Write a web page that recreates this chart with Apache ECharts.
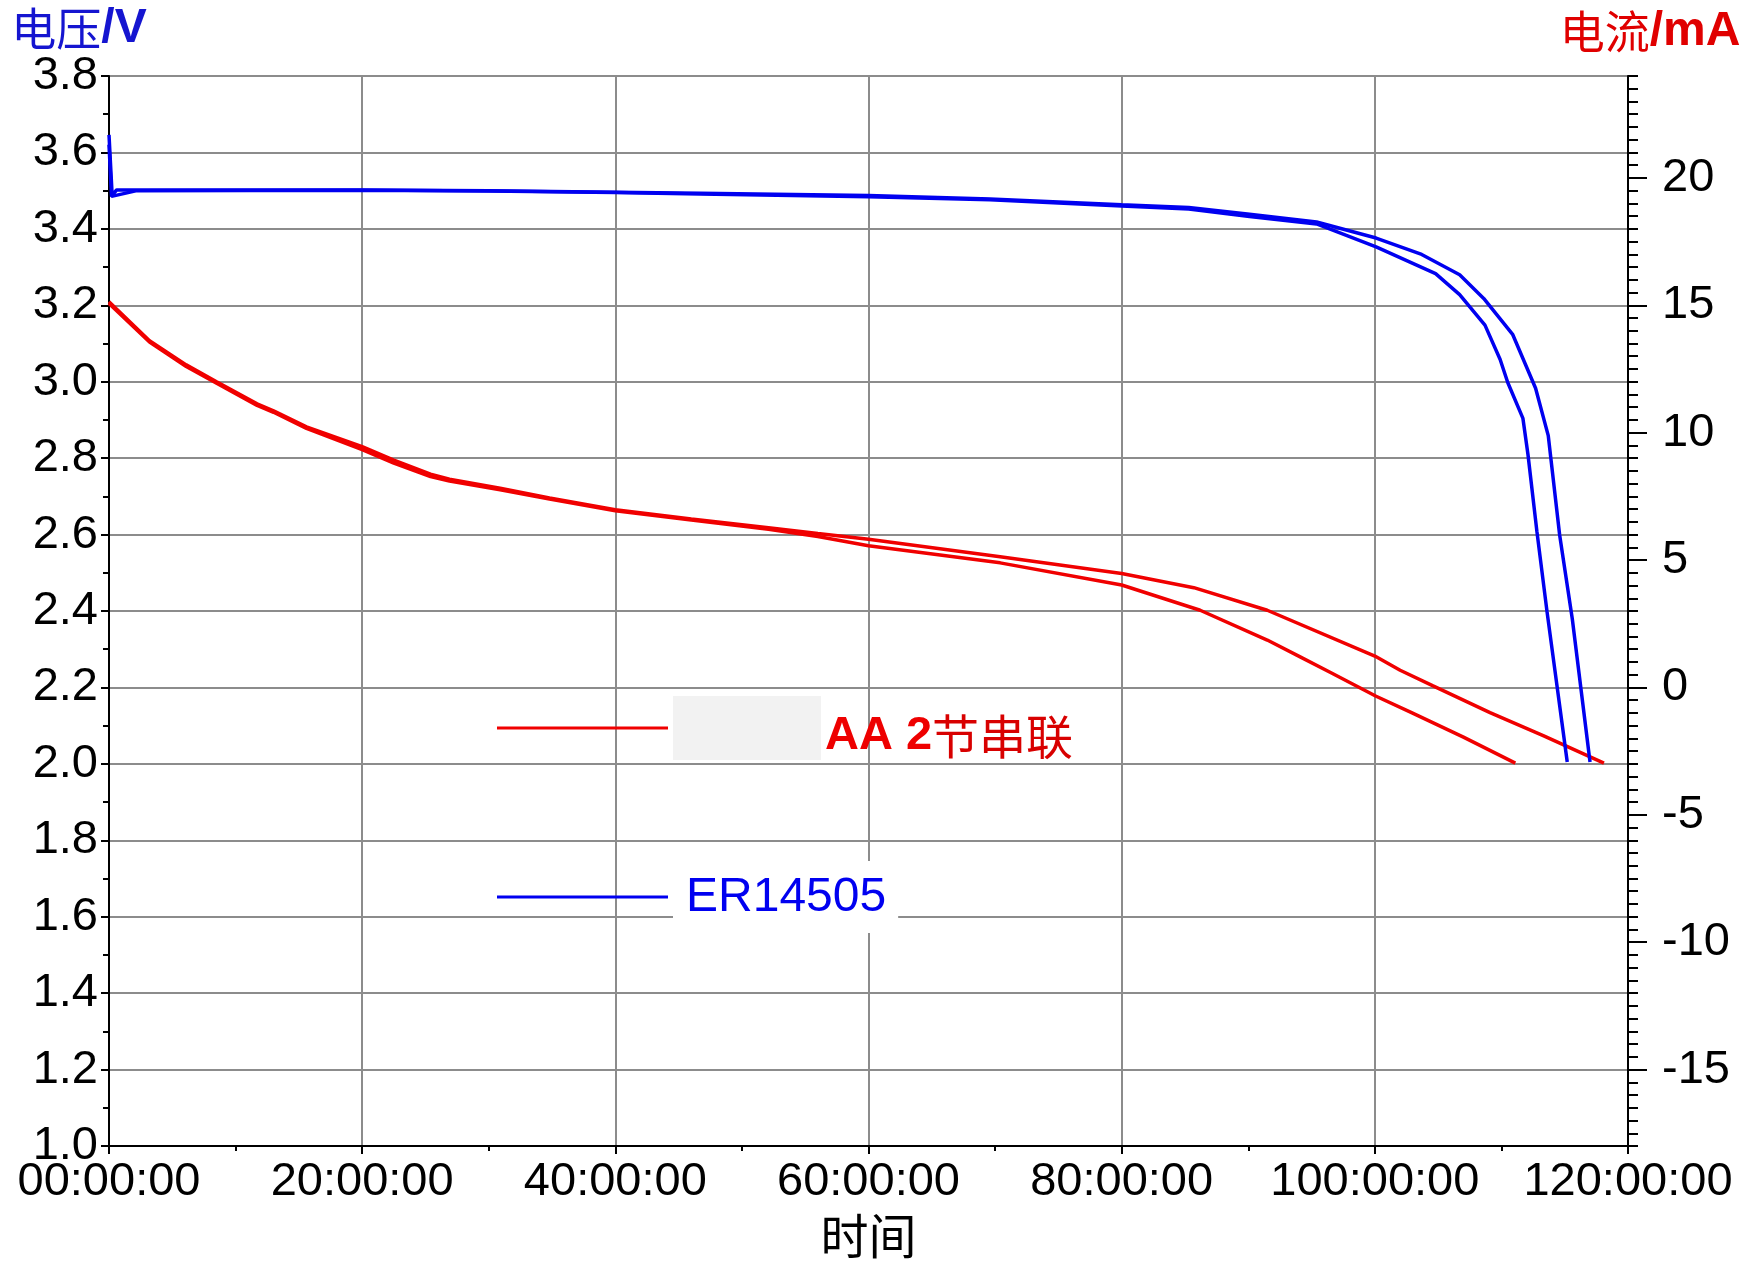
<!DOCTYPE html>
<html>
<head>
<meta charset="utf-8">
<script src="https://cdn.jsdelivr.net/npm/echarts@6/dist/echarts.min.js"></script>
<style>
html,body{margin:0;padding:0;background:#fff;}
#chart{width:1745px;height:1261px;}
</style>
</head>
<body>
<div id="chart"></div>
<script>
// ---- data (hours, volts) ----
const currentTicks = [-15, -10, -5, 0, 5, 10, 15, 20];

const redA_h = [0, 3.2, 6.1, 8.5, 11.7, 13.0, 15.6, 20.0, 22.5, 25.4, 26.9, 30.9, 34.8, 40.0, 46.0, 52.1, 56.0, 60.0, 70.4, 80.0, 85.7, 91.5, 100.0, 102.0, 104.6, 109.1, 113.3, 118.1];
const redA_v = [3.209, 3.107, 3.044, 3.000, 2.942, 2.924, 2.882, 2.830, 2.795, 2.758, 2.745, 2.721, 2.696, 2.665, 2.641, 2.618, 2.603, 2.588, 2.542, 2.498, 2.461, 2.402, 2.282, 2.245, 2.204, 2.134, 2.074, 2.002];

const redB_h = [0, 3.2, 6.1, 8.5, 11.7, 13.0, 15.6, 20.0, 22.5, 25.4, 26.9, 30.9, 34.8, 40.0, 46.0, 52.1, 56.0, 60.0, 70.4, 80.0, 86.2, 91.5, 94.1, 96.5, 100.1, 102.9, 107.0, 111.1];
const redB_v = [3.205, 3.104, 3.040, 2.996, 2.938, 2.920, 2.878, 2.822, 2.787, 2.752, 2.740, 2.717, 2.693, 2.662, 2.638, 2.614, 2.595, 2.571, 2.526, 2.468, 2.402, 2.324, 2.280, 2.239, 2.177, 2.134, 2.070, 2.002];

const blueA_h = [0, 0.25, 0.6, 20, 30, 40, 46.7, 60, 69.6, 80, 85.3, 90.1, 95.4, 100.1, 103.7, 106.7, 108.6, 110.9, 112.7, 113.7, 114.6, 115.6, 117.0];
const blueA_v = [3.646, 3.487, 3.502, 3.502, 3.500, 3.496, 3.493, 3.487, 3.478, 3.463, 3.456, 3.438, 3.418, 3.376, 3.333, 3.280, 3.218, 3.123, 2.983, 2.859, 2.599, 2.379, 2.005];

const blueB_h = [0, 0.2, 2.2, 20, 30, 40, 46.7, 60, 69.6, 80, 85.3, 90.1, 95.4, 100.1, 104.8, 106.7, 108.7, 109.9, 110.5, 111.7, 112.1, 112.8, 113.6, 115.2];
const blueB_v = [3.620, 3.485, 3.500, 3.501, 3.499, 3.495, 3.491, 3.484, 3.476, 3.460, 3.452, 3.432, 3.413, 3.353, 3.283, 3.228, 3.148, 3.058, 2.998, 2.904, 2.809, 2.609, 2.399, 2.005];

const nameRed = 'AA 2节串联';
const nameBlue = 'ER14505';

// ---- build ----
const zip = (h, v) => h.map((x, i) => [x, v[i]]);
const RED = '#f00000';
const BLUE = '#0000f0';
const latin = "'Liberation Sans', Arial, sans-serif";
const cjk = "'Noto Sans CJK SC', sans-serif";

const chart = echarts.init(document.getElementById('chart'), null, {renderer: 'canvas'});

function lineSeries(name, data, color) {
  return {
    name: name, type: 'line', data: data, yAxisIndex: 0,
    symbol: 'none', smooth: false, clip: true,
    lineStyle: {color: color, width: 3.5},
    itemStyle: {color: color},
    z: 5
  };
}

const plotWidth = 1745 - 109 - 117;

chart.setOption({
  animation: false,
  backgroundColor: '#ffffff',
  grid: {left: 109, right: 117, top: 76, bottom: 115, outerBoundsMode: 'none', containLabel: false,
         show: true, borderColor: '#000', borderWidth: 2, backgroundColor: 'transparent'},
  legend: [
    {
      left: 497, top: 696, padding: 0, itemWidth: 171, itemHeight: 3, icon: 'rect',
      data: [{name: nameRed}],
      formatter: () => '{box|}{b|AA 2}{c|节串联}',
      textStyle: {
        rich: {
          box: {width: 148, height: 64, backgroundColor: '#f2f2f2'},
          b: {fontFamily: latin, fontWeight: 'bold', fontSize: 47, color: '#ee0000', padding: [16, 0, 0, 4]},
          c: {fontFamily: cjk, fontSize: 47, color: '#d80000', padding: [16, 0, 0, 0]}
        }
      }
    },
    {
      left: 497, top: 861, padding: 0, itemWidth: 171, itemHeight: 3, icon: 'rect',
      data: [{name: nameBlue}],
      formatter: () => '{w|ER14505}',
      textStyle: {
        rich: {
          w: {fontFamily: latin, fontSize: 48, color: '#0000f0', backgroundColor: '#ffffff', padding: [13, 12, 11, 13]}
        }
      }
    }
  ],
  xAxis: {
    type: 'value', min: 0, max: 120, interval: 20,
    name: '时间', nameLocation: 'middle', nameGap: 66,
    nameTextStyle: {fontFamily: cjk, fontSize: 48, color: '#000'},
    axisLine: {show: true, onZero: false, lineStyle: {color: '#000', width: 2}},
    axisTick: {show: true, inside: false, length: 8, lineStyle: {color: '#000', width: 2}},
    minorTick: {show: true, splitNumber: 2, length: 5, lineStyle: {color: '#000', width: 2}},
    axisLabel: {
      margin: 13, color: '#000', fontFamily: latin, fontSize: 47,
      formatter: v => (v < 10 ? '0' + v : '' + v) + ':00:00'
    },
    splitLine: {show: true, lineStyle: {color: '#8c8c8c', width: 2}}
  },
  yAxis: [
    {
      type: 'value', min: 1.0, max: 3.8, interval: 0.2, position: 'left',
      name: '{a|电压}{b|/V}', nameLocation: 'end', nameGap: 20,
      nameTextStyle: {
        padding: [0, 60, 0, 0],
        rich: {
          a: {fontFamily: cjk, fontSize: 45, color: '#1515d0'},
          b: {fontFamily: latin, fontWeight: 'bold', fontSize: 48, color: '#1515d0'}
        }
      },
      axisLine: {show: true, onZero: false, lineStyle: {color: '#000', width: 2}},
      axisTick: {show: true, inside: false, length: 8, lineStyle: {color: '#000', width: 2}},
      minorTick: {show: true, splitNumber: 2, length: 6, lineStyle: {color: '#000', width: 2}},
      axisLabel: {margin: 11, color: '#000', fontFamily: latin, fontSize: 47, formatter: v => v.toFixed(1)},
      splitLine: {show: true, lineStyle: {color: '#8c8c8c', width: 2}}
    },
    {
      type: 'value', min: -18, max: 24, interval: 0.5, position: 'right',
      name: '{a|电流}{b|/mA}', nameLocation: 'end', nameGap: 20,
      nameTextStyle: {
        padding: [0, 0, 0, 44],
        rich: {
          a: {fontFamily: cjk, fontSize: 45, color: '#e00000'},
          b: {fontFamily: latin, fontWeight: 'bold', fontSize: 48, color: '#e00000'}
        }
      },
      axisLine: {show: true, onZero: false, lineStyle: {color: '#000', width: 2}},
      axisTick: {show: true, inside: false, length: 10, lineStyle: {color: '#000', width: 2}},
      axisLabel: {
        margin: 34, color: '#000', fontFamily: latin, fontSize: 47, align: 'left',
        customValues: currentTicks,
        formatter: v => String(v)
      },
      splitLine: {show: false}
    },
    {
      // long ticks at every 5 mA on the right edge
      type: 'value', min: -18, max: 24, position: 'right', offset: -plotWidth,
      axisLine: {show: false},
      axisTick: {show: true, inside: false, length: 19, customValues: currentTicks, lineStyle: {color: '#000', width: 2}},
      axisLabel: {show: false},
      splitLine: {show: false}
    }
  ],
  series: [
    lineSeries(nameRed, zip(redA_h, redA_v), RED),
    lineSeries(nameRed, zip(redB_h, redB_v), RED),
    lineSeries(nameBlue, zip(blueA_h, blueA_v), BLUE),
    lineSeries(nameBlue, zip(blueB_h, blueB_v), BLUE)
  ]
});
</script>
</body>
</html>
